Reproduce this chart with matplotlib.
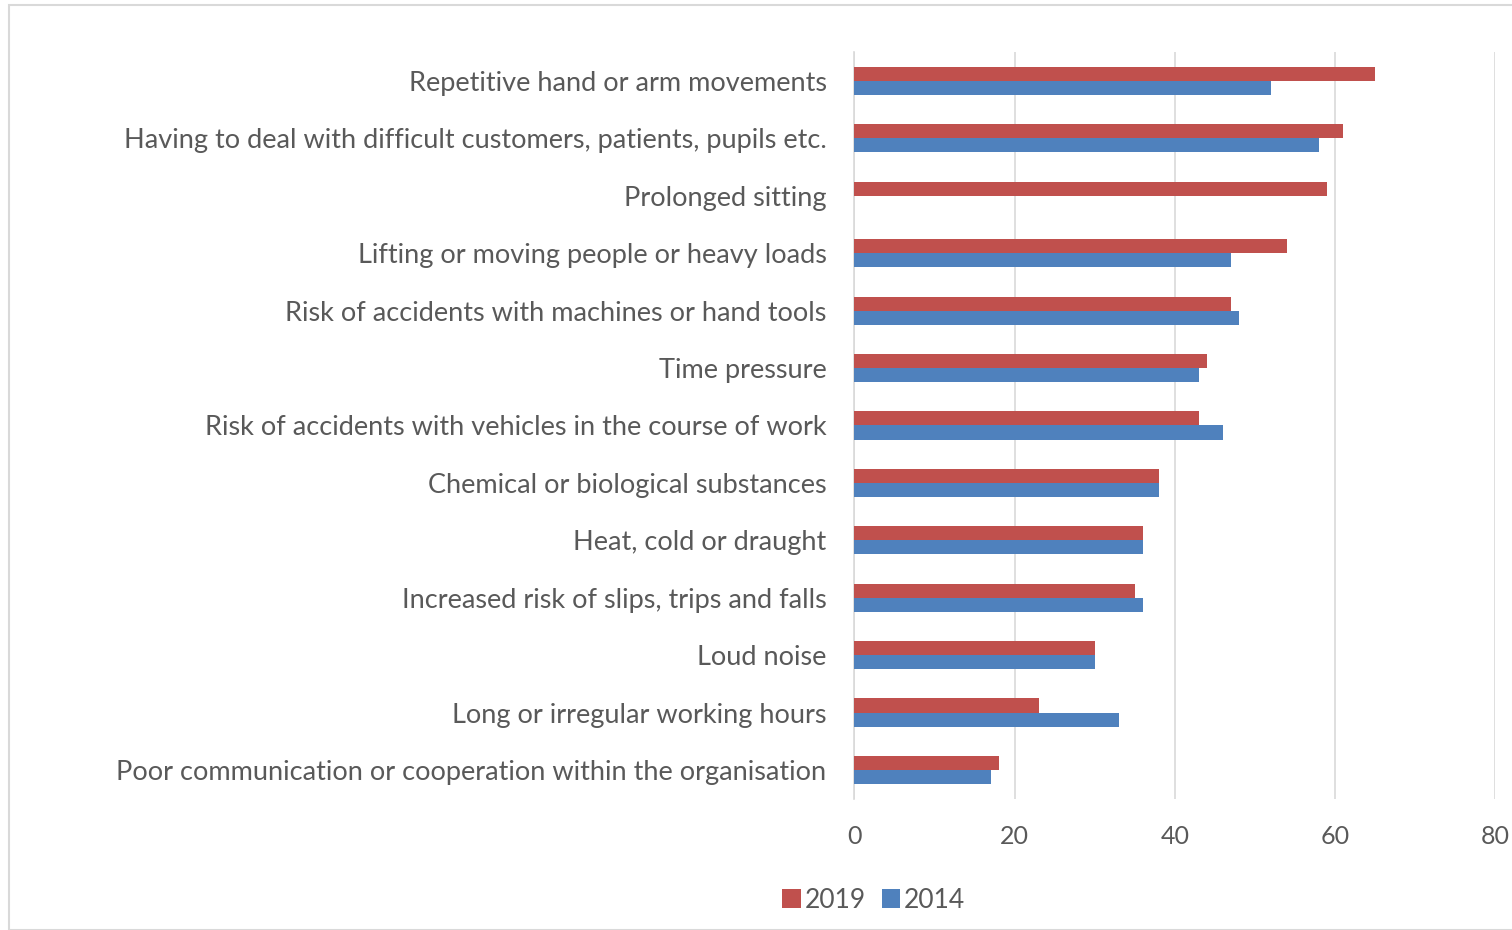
import numpy as np
import matplotlib
matplotlib.use("Agg")
import matplotlib.pyplot as plt
from matplotlib.patches import Rectangle

categories = [
    "Repetitive hand or arm movements",
    "Having to deal with difficult customers, patients, pupils etc.",
    "Prolonged sitting",
    "Lifting or moving people or heavy loads",
    "Risk of accidents with machines or hand tools",
    "Time pressure",
    "Risk of accidents with vehicles in the course of work",
    "Chemical or biological substances",
    "Heat, cold or draught",
    "Increased risk of slips, trips and falls",
    "Loud noise",
    "Long or irregular working hours",
    "Poor communication or cooperation within the organisation",
]
values_2019 = [65, 61, 59, 54, 47, 44, 43, 38, 36, 35, 30, 23, 18]
values_2014 = [52, 58, 0, 47, 48, 43, 46, 38, 36, 36, 30, 33, 17]

red = "#C0504D"
blue = "#4F81BD"
text_col = "#595959"
plt.rcParams['font.family'] = ['Lato', 'DejaVu Sans']

fig = plt.figure(figsize=(15.12, 9.30), dpi=100)
ax = fig.add_axes([0.565, 0.1412, 0.424, 0.8026])

y = np.arange(len(categories))
h = 0.245
ax.barh(y - h / 2, values_2019, height=h, color=red, label="2019", zorder=3)
ax.barh(y + h / 2, values_2014, height=h, color=blue, label="2014", zorder=3)

ax.set_xlim(0, 80)
ax.set_ylim(len(categories) - 0.5, -0.5)
ax.set_xticks([0, 20, 40, 60, 80])
ax.set_yticks(y)
ax.set_yticklabels(categories)
ax.tick_params(axis='y', length=0, pad=20, labelsize=19.5, labelcolor=text_col)
ax.tick_params(axis='x', length=0, pad=19, labelsize=18, labelcolor=text_col)
ax.grid(axis='x', color="#D9D9D9", linewidth=1.2, zorder=0)
for s in ["top", "right", "bottom"]:
    ax.spines[s].set_visible(False)
ax.spines["left"].set_color("#D9D9D9")
ax.spines["left"].set_linewidth(1.2)

fig.legend(loc="center", bbox_to_anchor=(0.578, 0.032), ncol=2, frameon=False,
           fontsize=19, handlelength=0.7, handleheight=0.7, handletextpad=0.15,
           columnspacing=0.6, labelcolor=text_col)

fig.patches.append(Rectangle((9 / 1512, 0), 1.2, 1 - 5 / 930, transform=fig.transFigure,
                             fill=False, edgecolor="#D9D9D9", linewidth=1.5))

fig.savefig("out.png", dpi=100)
